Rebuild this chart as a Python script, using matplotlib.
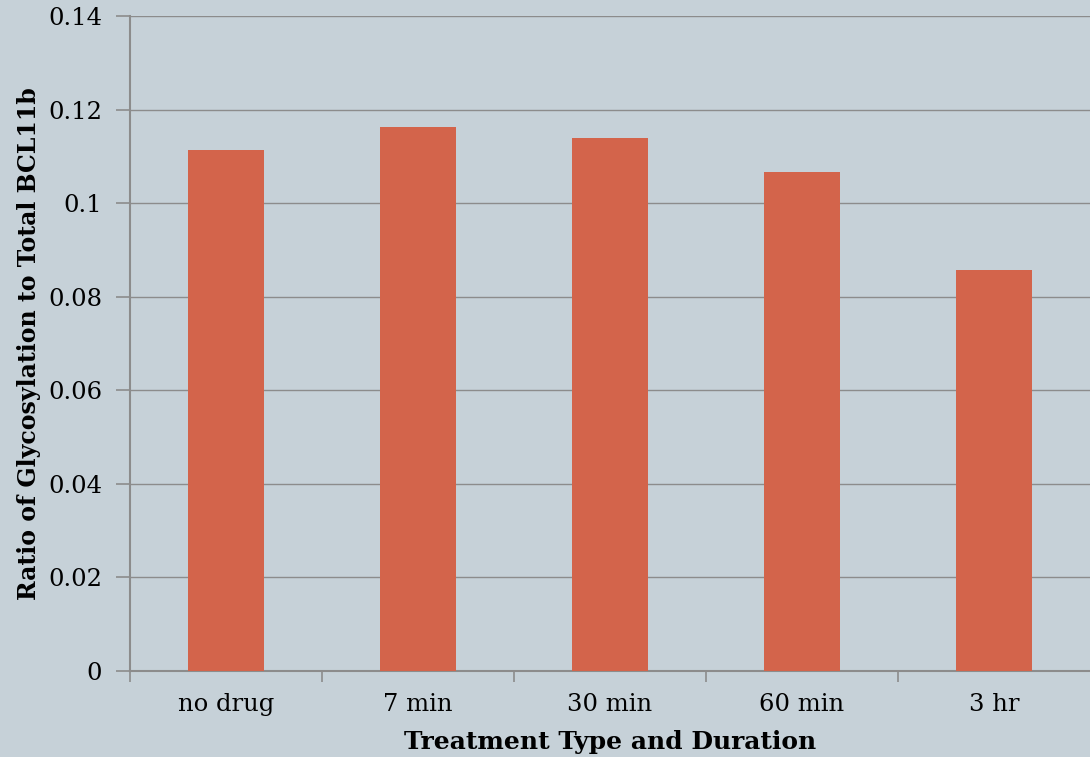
from matplotlib import pyplot as plt
import numpy as np

categories = ["no drug", "7 min", "30 min", "60 min", "3 hr"]
ratio = [0.1113, 0.1163, 0.1139, 0.1066, 0.0857]
yticks = [0, 0.02, 0.04, 0.06, 0.08, 0.1, 0.12, 0.14]
ytick_labels = ["0", "0.02", "0.04", "0.06", "0.08", "0.1", "0.12", "0.14"]

bg = "#c6d1d8"
plt.rcParams['font.family'] = ['DejaVu Serif']

fig = plt.figure(figsize=(10.9, 7.57), dpi=100, facecolor=bg)
ax = fig.add_axes([130/1090, 1 - 671/757, 960/1090, 655/757])
ax.set_facecolor(bg)

x = np.arange(len(categories))
ax.bar(x, ratio, width=0.4, color="#d3644b", zorder=3)

ax.set_xlim(-0.5, len(categories) - 0.5)
ax.set_ylim(0, 0.14)
ax.set_yticks(yticks)
ax.set_yticklabels(ytick_labels, fontsize=17.5)
ax.set_xticks(x)
ax.set_xticklabels(categories, fontsize=17.5)
ax.set_xticks(np.arange(len(categories)) - 0.5, minor=True)
ax.tick_params(axis='x', which='major', length=0, pad=16)
ax.tick_params(axis='x', which='minor', length=8, color="#8c8c8c", width=1.2)
ax.tick_params(axis='y', length=10, color="#8c8c8c", width=1.2, pad=10)

ax.grid(axis='y', color="#8c8c8c", linewidth=1, zorder=0)
for s in ['top', 'right']:
    ax.spines[s].set_visible(False)
for s in ['left', 'bottom']:
    ax.spines[s].set_color("#8c8c8c")
    ax.spines[s].set_linewidth(1.5)

ax.set_xlabel("Treatment Type and Duration", fontsize=18, fontweight='bold', labelpad=10)
ax.set_ylabel("Ratio of Glycosylation to Total BCL11b", fontsize=17, fontweight='bold')
ax.yaxis.set_label_coords(-0.093, 0.5)

fig.savefig("out.png", dpi=100, facecolor=bg)
